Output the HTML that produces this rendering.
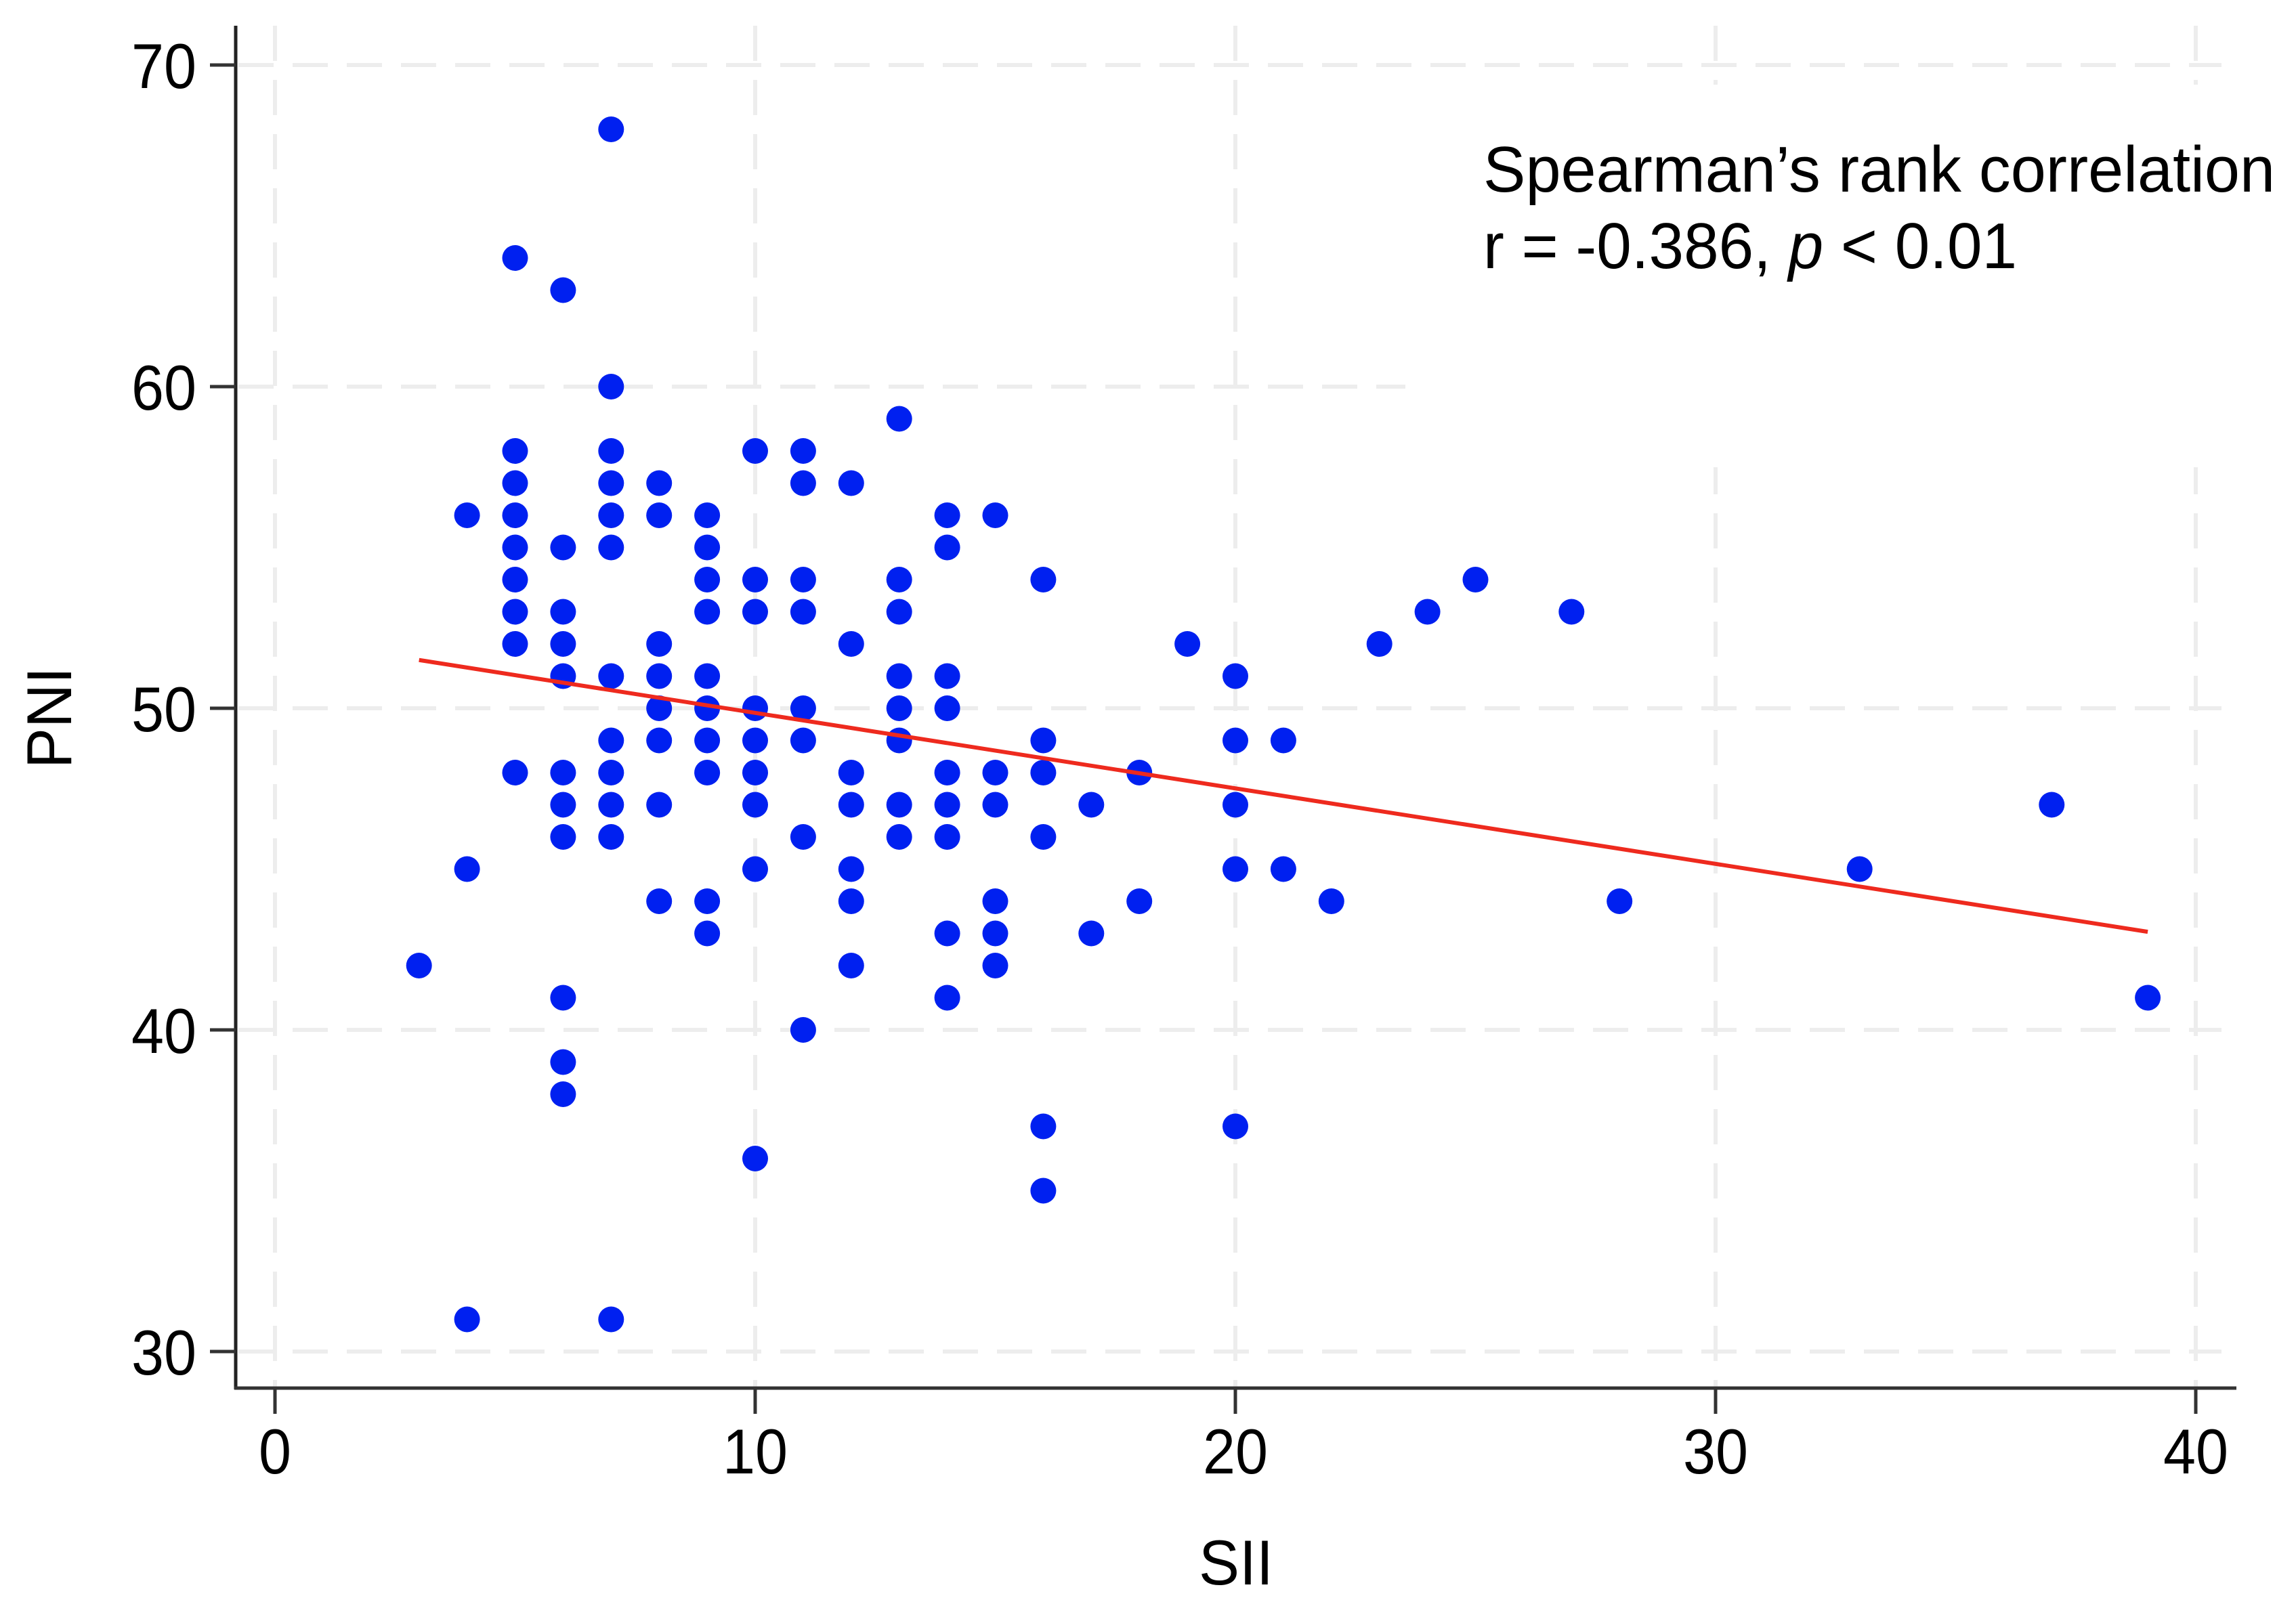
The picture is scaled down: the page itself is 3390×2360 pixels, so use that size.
<!DOCTYPE html>
<html><head><meta charset="utf-8"><style>
html,body{margin:0;padding:0;background:#fff;}
svg{display:block;font-family:"Liberation Sans",Arial,sans-serif;}
</style></head><body>
<svg id="chart" width="3390" height="2360" viewBox="0 0 3390 2360" xmlns="http://www.w3.org/2000/svg">
<rect width="3390" height="2360" fill="#fff"/>
<g id="grid"></g>
<rect x="2075" y="125" width="1315" height="565" fill="#fff"/>
<g id="marks"></g>
<g id="axes"></g>
<text x="2190" y="283" font-size="96" textLength="1169" lengthAdjust="spacingAndGlyphs">Spearman’s rank correlation</text>
<text x="2190" y="396" font-size="96" textLength="788" lengthAdjust="spacingAndGlyphs">r = -0.386, <tspan font-style="italic">p</tspan> &lt; 0.01</text>
<text x="1825" y="2340" font-size="94" text-anchor="middle" textLength="110" lengthAdjust="spacingAndGlyphs">SII</text>
<text transform="translate(105,1060) rotate(-90)" font-size="94" text-anchor="middle" textLength="150" lengthAdjust="spacingAndGlyphs">PNI</text>
</svg>
<script>
const xTicks = [0, 10, 20, 30, 40];
const yTicks = [30, 40, 50, 60, 70];
const siiValues = [3,4,4,4,5,5,5,5,5,5,5,5,5,6,6,6,6,6,6,6,6,6,6,6,7,7,7,7,7,7,7,7,7,7,7,7,8,8,8,8,8,8,8,8,9,9,9,9,9,9,9,9,9,9,10,10,10,10,10,10,10,10,10,11,11,11,11,11,11,11,11,12,12,12,12,12,12,12,13,13,13,13,13,13,13,13,14,14,14,14,14,14,14,14,14,15,15,15,15,15,15,16,16,16,16,16,16,17,17,18,18,19,20,20,20,20,20,21,21,22,23,24,25,27,28,33,37,39];
const pniValues = [42,56,45,31,64,58,57,56,55,54,53,52,48,63,55,53,52,51,48,47,46,41,39,38,68,60,58,57,56,55,51,49,48,47,46,31,57,56,52,51,50,49,47,44,56,55,54,53,51,50,49,48,44,43,58,54,53,50,49,48,47,45,36,58,57,54,53,50,49,46,40,57,52,48,47,45,44,42,59,54,53,51,50,49,47,46,56,55,51,50,48,47,46,43,41,56,48,47,44,43,42,54,49,48,46,37,35,47,43,48,44,52,51,49,47,45,37,49,45,44,52,53,54,53,44,45,47,41];
const fitX = [3, 39];
const fitY = [51.5, 43.05];

const NS = "http://www.w3.org/2000/svg";
function sx(v){ return 406 + (v - 0) * (3242 - 406) / 40; }
function sy(v){ return 1996 - (v - 30) * (1996 - 96) / 40; }
function mk(tag, attrs, parent){ const e = document.createElementNS(NS, tag); for (const k in attrs) e.setAttribute(k, attrs[k]); parent.appendChild(e); return e; }

const grid = document.getElementById('grid');
const marks = document.getElementById('marks');
const axes = document.getElementById('axes');

xTicks.forEach(t => {
  const l = mk('line', {x1: sx(t), x2: sx(t), y1: 38, y2: 2048, stroke: '#ededed', 'stroke-width': 6, 'stroke-dasharray': '52 28'}, grid);
  
  
});
yTicks.forEach(t => {
  const l = mk('line', {x1: 352, x2: 3280, y1: sy(t), y2: sy(t), stroke: '#ededed', 'stroke-width': 6, 'stroke-dasharray': '52 28'}, grid);
  
  
});

siiValues.forEach((x, i) => {
  const c = mk('circle', {cx: sx(x), cy: sy(pniValues[i]), r: 19, fill: '#0020f0'}, marks);
  
  
});

const fit = mk('line', {x1: sx(fitX[0]), y1: sy(fitY[0]), x2: sx(fitX[1]), y2: sy(fitY[1]), stroke: '#ee2a1e', 'stroke-width': 6}, marks);



const ya = mk('line', {x1: 348, x2: 348, y1: 38, y2: 2052, stroke: '#222', 'stroke-width': 5}, axes);


const xa = mk('line', {x1: 346, x2: 3302, y1: 2050, y2: 2050, stroke: '#333', 'stroke-width': 5}, axes);



xTicks.forEach(t => {
  const tk = mk('line', {x1: sx(t), x2: sx(t), y1: 2050, y2: 2088, stroke: '#333', 'stroke-width': 5}, axes);
  
  
  const s = String(t);
  const tx = mk('text', {x: sx(t), y: 2176, 'font-size': 94, 'text-anchor': 'middle', textLength: 48 * s.length, lengthAdjust: 'spacingAndGlyphs'}, axes);
  tx.textContent = s;
  
  
});
yTicks.forEach(t => {
  const tk = mk('line', {x1: 310, x2: 348, y1: sy(t), y2: sy(t), stroke: '#333', 'stroke-width': 5}, axes);
  
  
  const s = String(t);
  const tx = mk('text', {x: 290, y: sy(t) + 34, 'font-size': 94, 'text-anchor': 'end', textLength: 48 * s.length, lengthAdjust: 'spacingAndGlyphs'}, axes);
  tx.textContent = s;
  
  
});
</script>
</body></html>
